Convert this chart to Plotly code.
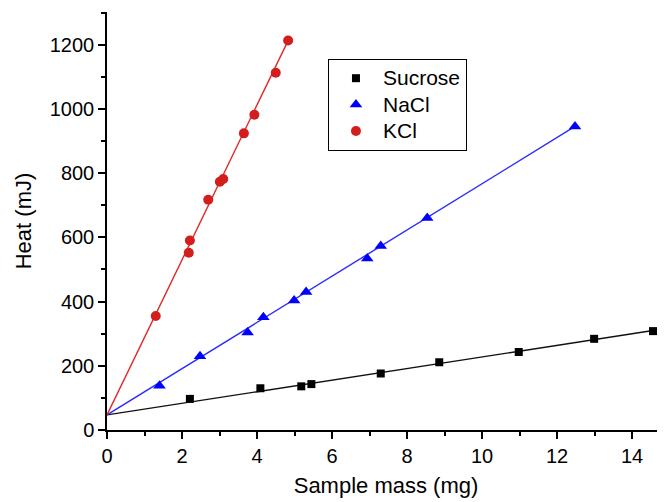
import plotly.graph_objects as go

# Data
sucrose_mass = [2.21, 4.09, 5.18, 5.45, 7.30, 8.86, 10.98, 12.99, 14.56]
sucrose_heat = [97, 130, 136, 143, 176, 211, 243, 284, 308]

nacl_mass = [1.40, 2.48, 3.75, 4.17, 4.99, 5.31, 6.94, 7.30, 8.54, 12.48]
nacl_heat = [138, 230, 304, 351, 403, 430, 534, 573, 660, 945]

kcl_mass = [1.30, 2.18, 2.21, 2.70, 3.01, 3.10, 3.65, 3.93, 4.50, 4.83]
kcl_heat = [355, 552, 590, 717, 773, 782, 924, 982, 1113, 1213]

# Linear fits
fit_names = ["Sucrose", "NaCl", "KCl"]
fit_intercept = [47, 47, 47]
fit_slope = [18.05, 72.0, 241.4]
fit_xmax = [14.56, 12.48, 4.83]

colors = {"Sucrose": "#000000", "NaCl": "#0000ff", "KCl": "#d41e1e"}
line_colors = {"Sucrose": "#101010", "NaCl": "#2a2aff", "KCl": "#e02828"}


def legend_label(s):
    return "<span style='font-size:21px'>" + s + "</span>"


fig = go.Figure()

for name, b, m, xm in zip(fit_names, fit_intercept, fit_slope, fit_xmax):
    fig.add_trace(go.Scatter(
        x=[0, xm], y=[b, b + m * xm], mode="lines",
        line=dict(color=line_colors[name], width=1.4),
        showlegend=False, hoverinfo="skip", cliponaxis=False))

fig.add_trace(go.Scatter(x=sucrose_mass, y=sucrose_heat, mode="markers",
                         name=legend_label("Sucrose"),
                         marker=dict(symbol="square", size=8, color=colors["Sucrose"]),
                         cliponaxis=False))
fig.add_trace(go.Scatter(x=nacl_mass, y=nacl_heat, mode="markers",
                         name=legend_label("NaCl"),
                         marker=dict(symbol="triangle-up", size=11, color=colors["NaCl"]),
                         cliponaxis=False))
fig.add_trace(go.Scatter(x=kcl_mass, y=kcl_heat, mode="markers",
                         name=legend_label("KCl"),
                         marker=dict(symbol="circle", size=10, color=colors["KCl"]),
                         cliponaxis=False))

font_family = "Liberation Sans, Arial, sans-serif"

# The page body has an 8px margin, so the figure is made 8px smaller on each side
fig.update_layout(
    width=657, height=494,
    margin=dict(l=99, r=0, t=4, b=72),
    paper_bgcolor="white", plot_bgcolor="white",
    font=dict(family=font_family, size=20, color="black"),
    legend=dict(x=0.396, y=0.8876, xanchor="left", yanchor="top",
                bordercolor="black", borderwidth=1, bgcolor="white",
                font=dict(size=18), itemwidth=44),
    xaxis=dict(range=[0, 14.88], dtick=2, tick0=0, showgrid=False, zeroline=False,
               showline=True, linecolor="black", linewidth=1.5,
               ticks="outside", ticklen=7, tickwidth=1.5, tickcolor="black",
               minor=dict(dtick=1, ticks="outside", ticklen=4, tickwidth=1.5, tickcolor="black"),
               tickfont=dict(size=20),
               title=dict(text="Sample mass (mg)", font=dict(size=22), standoff=12)),
    yaxis=dict(range=[0, 1302], dtick=200, tick0=0, showgrid=False, zeroline=False,
               showline=True, linecolor="black", linewidth=1.5,
               ticks="outside", ticklen=7, tickwidth=1.5, tickcolor="black",
               minor=dict(dtick=100, ticks="outside", ticklen=4, tickwidth=1.5, tickcolor="black"),
               tickfont=dict(size=20),
               title=dict(text="Heat (mJ)", font=dict(size=22), standoff=12)),
)

fig.write_html("out.html")
